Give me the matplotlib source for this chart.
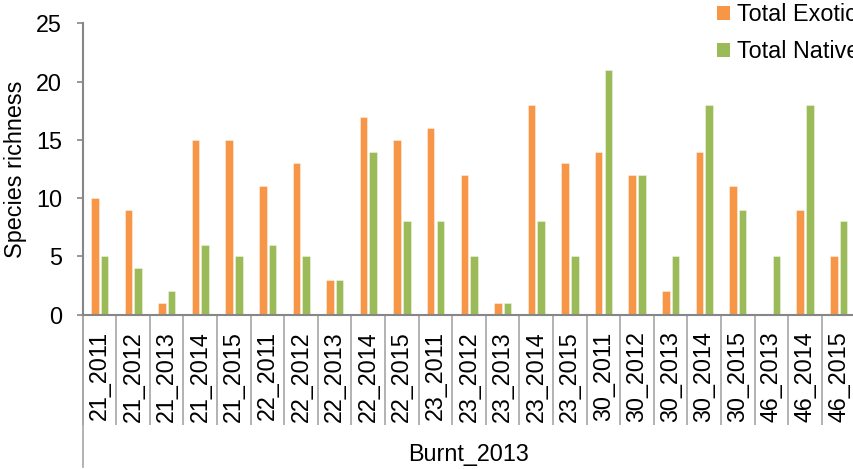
import matplotlib
matplotlib.use("Agg")
import matplotlib.pyplot as plt
import numpy as np
from matplotlib.patches import Patch

categories = ["21_2011", "21_2012", "21_2013", "21_2014", "21_2015",
              "22_2011", "22_2012", "22_2013", "22_2014", "22_2015",
              "23_2011", "23_2012", "23_2013", "23_2014", "23_2015",
              "30_2011", "30_2012", "30_2013", "30_2014", "30_2015",
              "46_2013", "46_2014", "46_2015"]
total_exotic = [10, 9, 1, 15, 15, 11, 13, 3, 17, 15, 16, 12, 1, 18, 13, 14, 12, 2, 14, 11, 0, 9, 5]
total_native = [5, 4, 2, 6, 5, 6, 5, 3, 14, 8, 8, 5, 1, 8, 5, 21, 12, 5, 18, 9, 5, 18, 8]
group_label = "Burnt_2013"
y_label = "Species richness"
series_names = ["Total Exotic", "Total Native"]
y_ticks = [0, 5, 10, 15, 20, 25]

plt.rcParams['font.family'] = ['Liberation Sans', 'DejaVu Sans']
FS = 16.8
ORANGE = "#F79646"
GREEN = "#9BBB59"
GRAY = "#868686"

W, H = 854, 469
fig = plt.figure(figsize=(W / 100, H / 100), dpi=100)
left, right_px, top_px, bot_px = 82.7, 855.3, 23.3, 314.7
ax = fig.add_axes([left / W, 1 - bot_px / H, (right_px - left) / W, (bot_px - top_px) / H])

x = np.arange(len(categories))
bw = 0.225
ax.bar(x - 0.14, total_exotic, bw, color=ORANGE, edgecolor=(1, 1, 1, 0.45), linewidth=0.6)
ax.bar(x + 0.148, total_native, bw, color=GREEN, edgecolor=(1, 1, 1, 0.45), linewidth=0.6)

ax.set_xlim(-0.5, len(categories) - 0.5)
ax.set_ylim(0, 25)
ax.set_yticks(y_ticks)
ax.tick_params(axis='y', direction='out', length=4.3, width=1.2, color=GRAY, pad=10.5, labelsize=FS)

ax.set_xticks(x)
ax.set_xticklabels(categories, rotation=90, fontsize=FS, va='top', ha='center')
ax.tick_params(axis='x', which='major', length=0, pad=12)
ax.set_xticks(np.arange(-0.5, len(categories), 1.0), minor=True)
ax.tick_params(axis='x', which='minor', direction='out', length=110 * 0.72, width=1.2, color="#A6A6A6")

for s in ['top', 'right']:
    ax.spines[s].set_visible(False)
for s in ['left', 'bottom']:
    ax.spines[s].set_color(GRAY)
    ax.spines[s].set_linewidth(1.5)

# extend left boundary of the category axis
ax_h = bot_px - top_px
ax.plot([0, 0], [0, -(466.7 - bot_px) / ax_h], transform=ax.transAxes, color="#A6A6A6",
        lw=1.2, clip_on=False)

ax.text(0.5, -(455 - bot_px) / ax_h, group_label, transform=ax.transAxes,
        ha='center', va='center', fontsize=FS)

fig.text(15.3 / W, 1 - 169 / H, y_label, rotation=90, ha='center', va='center', fontsize=FS)

handles = [Patch(facecolor=ORANGE), Patch(facecolor=GREEN)]
fig.legend(handles, series_names, loc='upper left', bbox_to_anchor=(717.3 / W, 1 - 3 / H),
           frameon=False, borderpad=0, borderaxespad=0, handlelength=0.54, handleheight=0.54,
           handletextpad=0.31, labelspacing=0.6, fontsize=FS)

fig.savefig("out.png", dpi=100)
